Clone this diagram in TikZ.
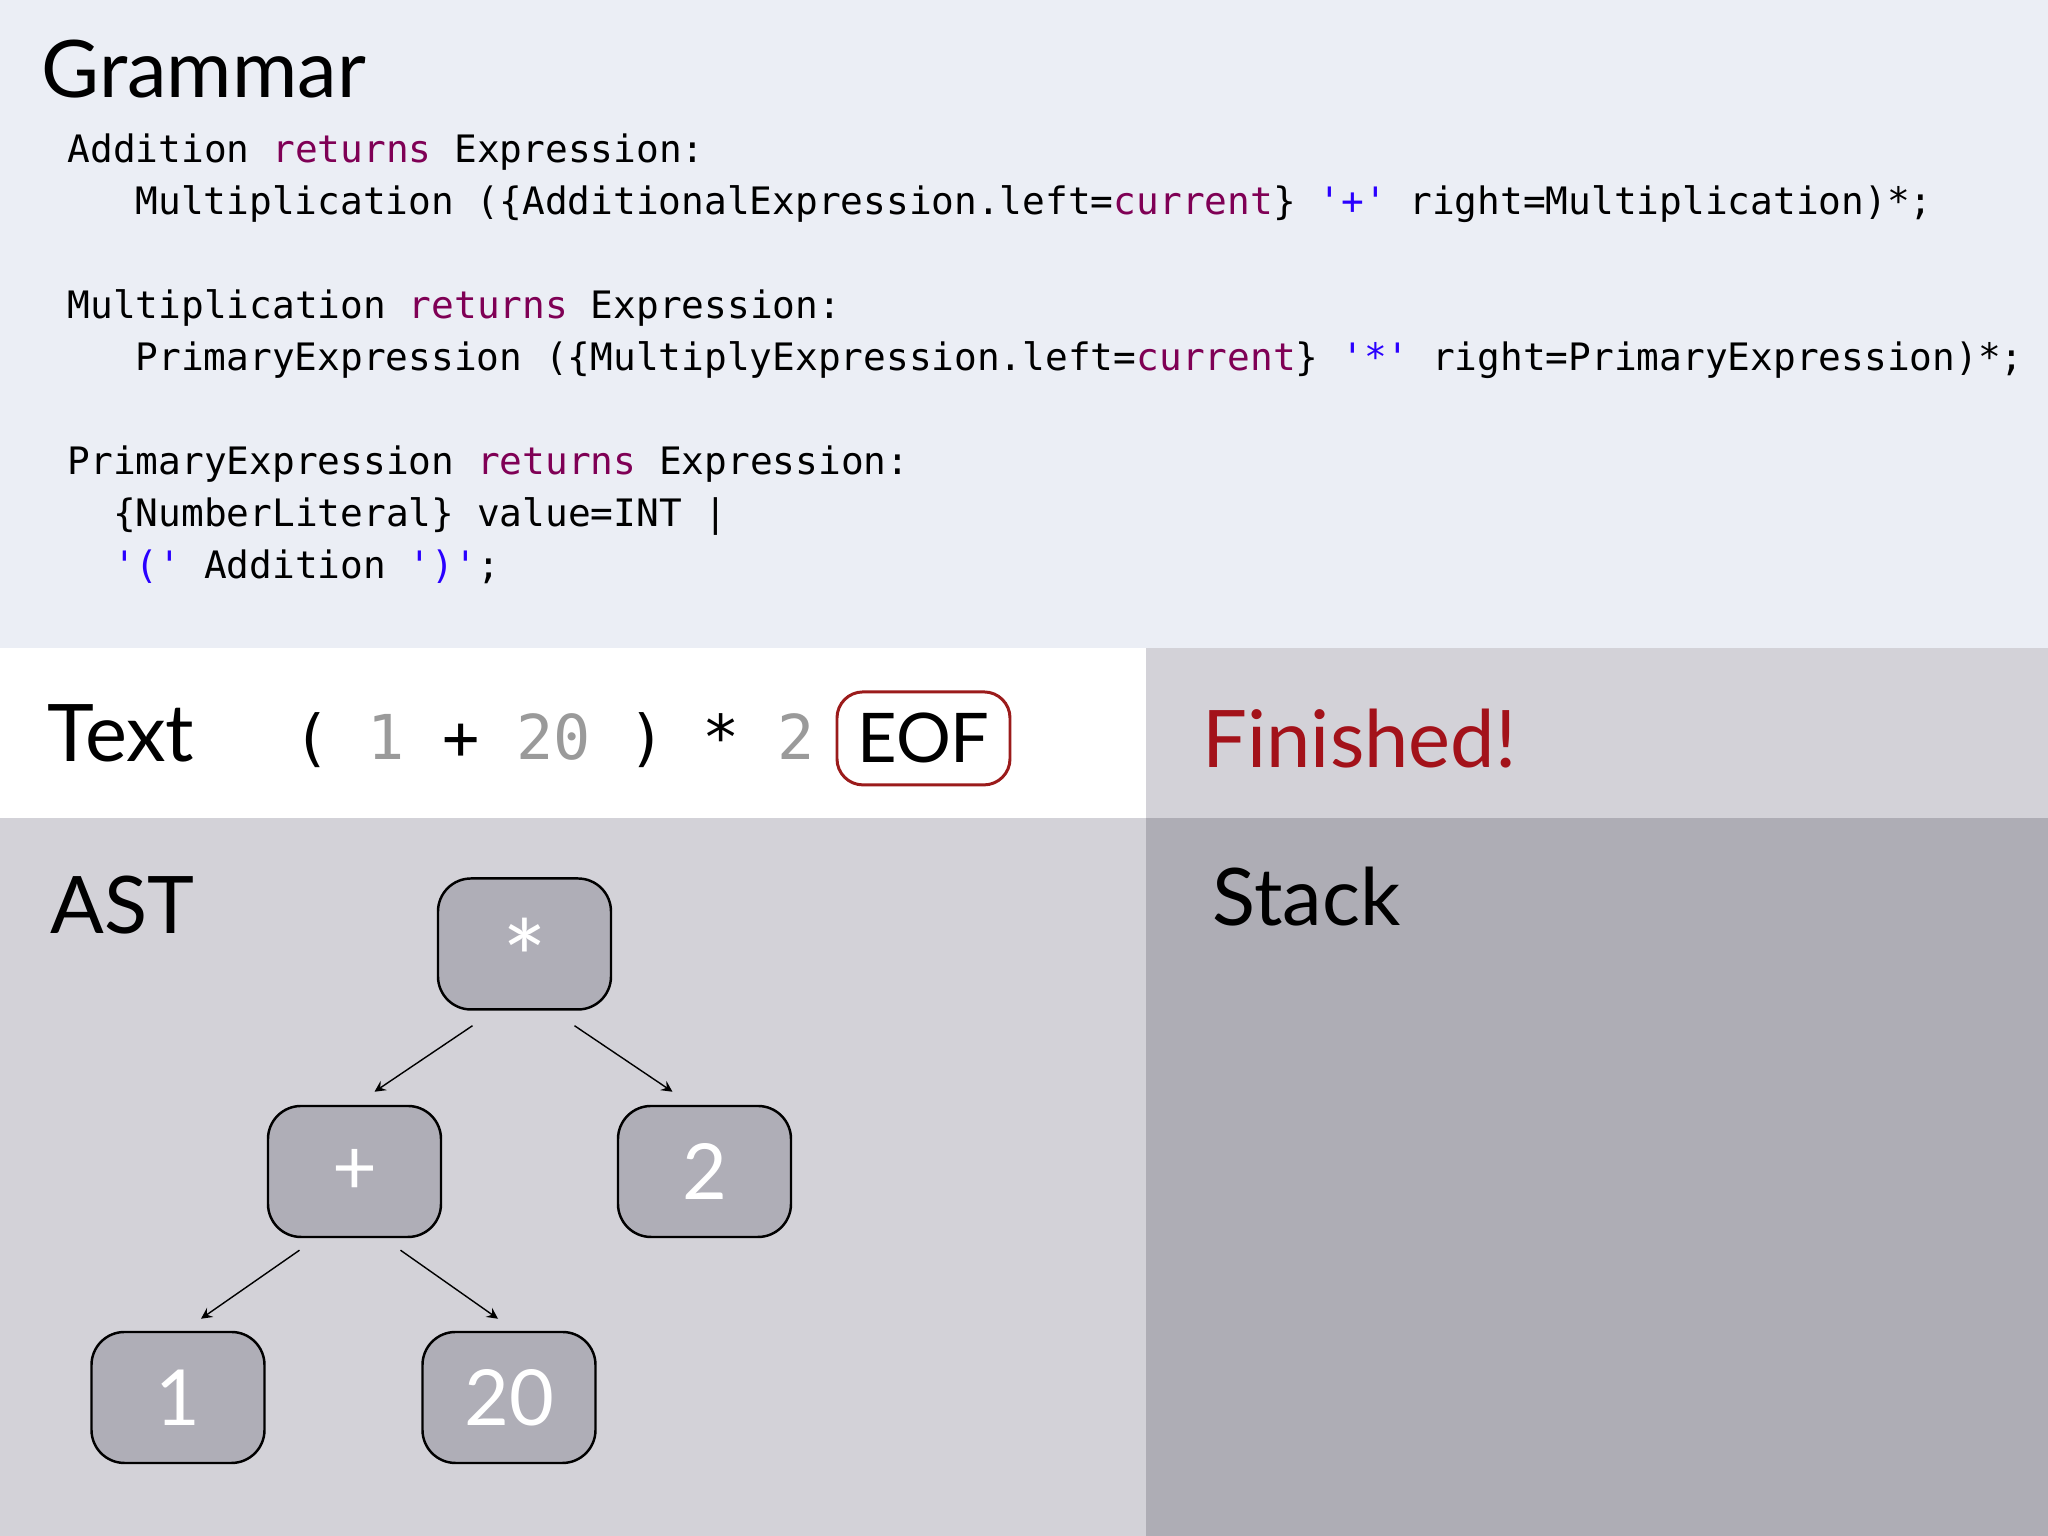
\documentclass[tikz,border=0pt]{standalone}
\usepackage{fontspec}
\setmainfont{Lato}
\setmonofont{DejaVu Sans Mono}
\usetikzlibrary{positioning}
\definecolor{gramblue}{HTML}{EBEEF5}
\definecolor{panelgray}{HTML}{D3D2D8}
\definecolor{stackgray}{HTML}{AEADB5}
\definecolor{nodegray}{HTML}{AFAEB7}
\definecolor{kwpurple}{HTML}{7F0055}
\definecolor{strblue}{HTML}{2A00FF}
\definecolor{tokgray}{HTML}{9A9A9A}
\definecolor{eofred}{HTML}{9B1B1B}
\definecolor{donered}{HTML}{A3121A}
\newcommand{\kwd}[1]{\textcolor{kwpurple}{#1}}
\newcommand{\strlit}[1]{\textcolor{strblue}{#1}}
\newcommand{\tokg}[1]{\textcolor{tokgray}{#1}}
\frenchspacing
\tikzset{
  paneltitle/.style={anchor=base west, inner sep=0, font=\fontsize{22.6}{24}\selectfont},
  codeline/.style={anchor=base west, inner sep=0, font=\ttfamily\fontsize{10.75}{14.8}\selectfont},
  astnode/.style={draw, line width=0.7pt, rounded corners=0.33cm, fill=nodegray,
    minimum width=1.73cm, minimum height=1.31cm, inner sep=0, text=white,
    font=\fontsize{22}{22}\selectfont},
  eofbox/.style={draw=eofred, line width=0.85pt, rounded corners=0.26cm,
    minimum width=1.73cm, minimum height=0.93cm, inner sep=0,
    font=\fontsize{19.5}{20}\selectfont}
}
\begin{document}
\begin{tikzpicture}[>=stealth]
  \useasboundingbox (0,0) rectangle (20.48,15.36);
  % panels
  \fill[gramblue] (0,8.88) rectangle (20.48,15.36);
  \fill[white] (0,7.18) rectangle (11.46,8.88);
  \fill[panelgray] (11.46,7.18) rectangle (20.48,8.88);
  \fill[panelgray] (0,0) rectangle (11.46,7.18);
  \fill[stackgray] (11.46,0) rectangle (20.48,7.18);

  % grammar
  \node[paneltitle] (grammar) at (0.41,14.38) {Grammar};
  \node[codeline] (gAdd) at (0.67,13.73) {Addition \kwd{returns} Expression:};
  \node[codeline] (gAddRhs) at (1.35,13.21) {Multiplication (\{AdditionalExpression.left=\kwd{current}\} \strlit{'+'} right=Multiplication)*;};
  \node[codeline] (gMul) at (0.67,12.17) {Multiplication \kwd{returns} Expression:};
  \node[codeline] (gMulRhs) at (1.35,11.65) {PrimaryExpression (\{MultiplyExpression.left=\kwd{current}\} \strlit{'*'} right=PrimaryExpression)*;};
  \node[codeline] (gPrim) at (0.67,10.61) {PrimaryExpression \kwd{returns} Expression:};
  \node[codeline] (gPrimNum) at (1.125,10.09) {\{NumberLiteral\} value=INT |};
  \node[codeline] (gPrimPar) at (1.125,9.57) {\strlit{'('} Addition \strlit{')'};};

  % input text
  \node[paneltitle] (text) at (0.47,7.74) {Text};
  \node[codeline, font=\ttfamily\fontsize{17.6}{20}\selectfont] (tokens) at (2.924,7.76)
    {( \tokg{1} + \tokg{20} ) * \tokg{2}};
  \node[eofbox, anchor=base] (eof) at (9.235,7.73) {EOF};
  \node[paneltitle, text=donered] (done) at (12.02,7.68) {Finished!};

  % tree
  \node[paneltitle] (ast) at (0.50,6.02) {AST};
  \node[paneltitle] (stack) at (12.12,6.10) {Stack};
  \node[astnode, font=\fontsize{30}{30}\selectfont] (star) at (5.245,5.92) {\raisebox{-0.54cm}[0pt][0pt]{*}};
  \node[astnode] (plus) at (3.545,3.645) {+};
  \node[astnode] (two) at (7.045,3.645) {2};
  \node[astnode] (one) at (1.78,1.385) {1};
  \node[astnode] (twenty) at (5.09,1.385) {20};
  \draw[->] ([xshift=-0.52cm,yshift=-0.15cm]star.south) -- ([xshift=0.2cm,yshift=0.13cm]plus.north);
  \draw[->] ([xshift=0.5cm,yshift=-0.15cm]star.south) -- ([xshift=-0.32cm,yshift=0.13cm]two.north);
  \draw[->] ([xshift=-0.55cm,yshift=-0.12cm]plus.south) -- ([xshift=0.23cm,yshift=0.12cm]one.north);
  \draw[->] ([xshift=0.46cm,yshift=-0.12cm]plus.south) -- ([xshift=-0.11cm,yshift=0.12cm]twenty.north);
\end{tikzpicture}
\end{document}
